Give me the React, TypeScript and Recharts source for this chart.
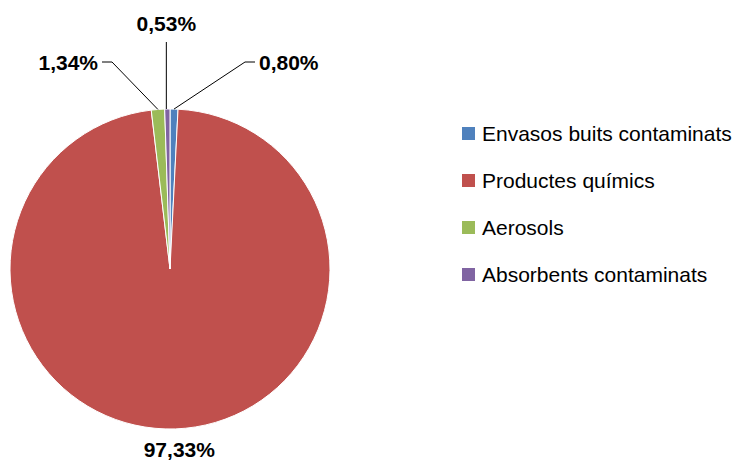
import { PieChart, Pie, Cell, Legend } from "recharts";

const categories = [
  "Envasos buits contaminats",
  "Productes químics",
  "Aerosols",
  "Absorbents contaminats",
];
const shares = [0.8, 97.33, 1.34, 0.53];
const colors = ["#4F81BD", "#C0504D", "#9BBB59", "#8064A2"];

const data = categories.map((name, i) => ({ name, value: shares[i] }));

const FONT = '"Liberation Sans", Arial, sans-serif';
const RAD = Math.PI / 180;

// how each label is placed relative to the pie centre (px)
const labelPlacement = [
  { kind: "elbow", elbowDx: 75, dy: -207, side: 1 },
  { kind: "radial", r: 188 },
  { kind: "elbow", elbowDx: -58, dy: -207, side: -1 },
  { kind: "vertical", dy: -227 },
];

const fmt = (v: number) => v.toFixed(2).replace(".", ",") + "%";

const renderLabel = (props: any) => {
  const { cx, cy, midAngle, outerRadius, index, value } = props;
  const p = labelPlacement[index];
  const ex = cx + outerRadius * Math.cos(-midAngle * RAD);
  const ey = cy + outerRadius * Math.sin(-midAngle * RAD);
  const textProps = {
    fontFamily: FONT,
    fontSize: 21,
    fontWeight: 700,
    fill: "#000",
  };

  if (p.kind === "radial") {
    const x = cx + p.r * Math.cos(-midAngle * RAD);
    const y = cy + p.r * Math.sin(-midAngle * RAD);
    return (
      <text x={x + 3} y={y} textAnchor="middle" {...textProps}>
        {fmt(value)}
      </text>
    );
  }

  if (p.kind === "vertical") {
    const ty = cy + p.dy;
    return (
      <g>
        <line x1={ex - 1} y1={ey} x2={ex - 1} y2={ty} stroke="#000" strokeWidth={1} />
        <text x={ex - 1} y={ty - 11} textAnchor="middle" {...textProps}>
          {fmt(value)}
        </text>
      </g>
    );
  }

  const bx = cx + p.elbowDx;
  const by = cy + p.dy;
  const endX = bx + p.side * 10;
  return (
    <g>
      <polyline
        points={`${ex},${ey} ${bx},${by} ${endX},${by}`}
        fill="none"
        stroke="#000"
        strokeWidth={1}
      />
      <text
        x={endX + p.side * 4}
        y={by + 8}
        textAnchor={p.side > 0 ? "start" : "end"}
        {...textProps}
      >
        {fmt(value)}
      </text>
    </g>
  );
};

const renderLegend = () => (
  <div style={{ fontFamily: FONT, fontSize: 21, color: "#000" }}>
    {categories.map((name, i) => (
      <div
        key={name}
        style={{ height: 47, display: "flex", alignItems: "center", whiteSpace: "nowrap" }}
      >
        <span
          style={{
            display: "inline-block",
            width: 13,
            height: 13,
            background: colors[i],
            marginRight: 7,
          }}
        />
        {name}
      </div>
    ))}
  </div>
);

export default function App() {
  return (
    <div style={{ position: "absolute", left: 0, top: 0, background: "#fff" }}>
      <PieChart width={738} height={463} margin={{ top: 0, right: 0, bottom: 0, left: 0 }}>
        <Pie
          data={data}
          dataKey="value"
          nameKey="name"
          cx={170}
          cy={269}
          outerRadius={160}
          startAngle={90}
          endAngle={-270}
          stroke="#fff"
          strokeWidth={1}
          label={renderLabel}
          labelLine={false}
          isAnimationActive={false}
        >
          {data.map((d, i) => (
            <Cell key={d.name} fill={colors[i]} />
          ))}
        </Pie>
        <Legend
          layout="vertical"
          align="right"
          verticalAlign="top"
          wrapperStyle={{ left: 462, top: 110, width: 276 }}
          content={renderLegend}
        />
      </PieChart>
    </div>
  );
}
